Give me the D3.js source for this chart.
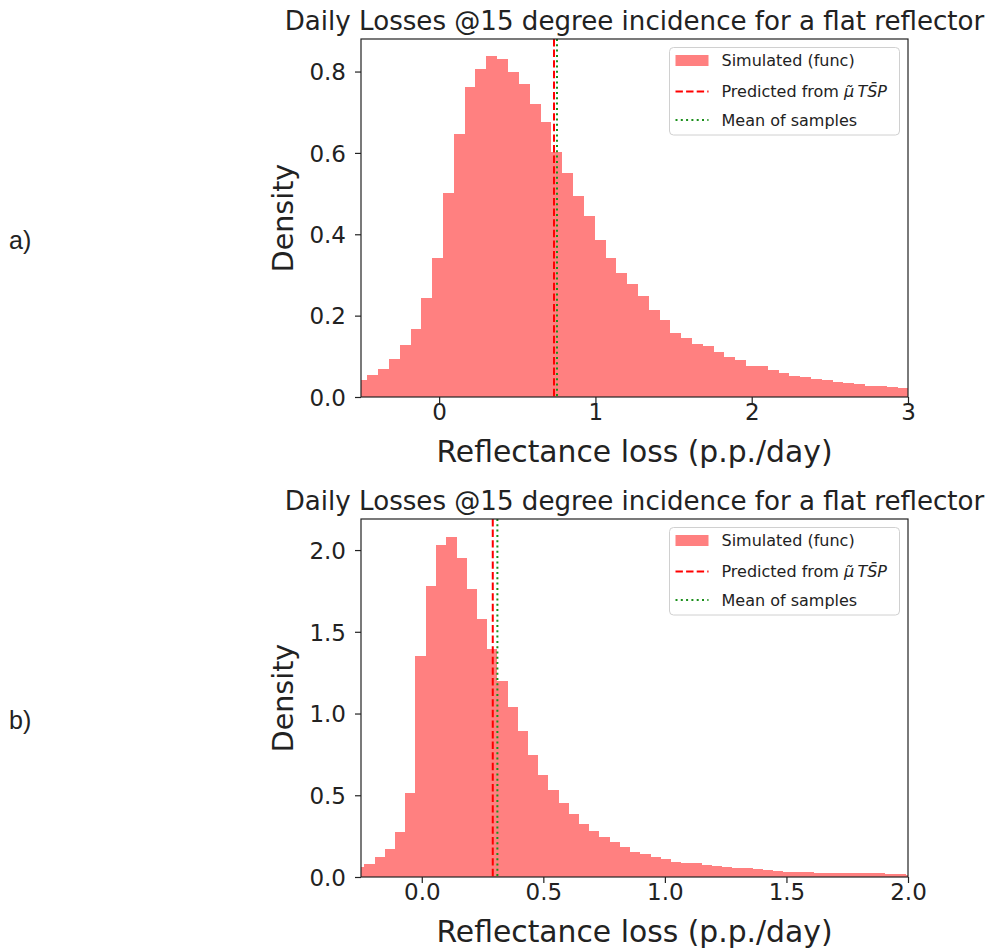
<!DOCTYPE html>
<html>
<head>
<meta charset="utf-8">
<script src="https://cdn.jsdelivr.net/npm/d3@7"></script>
<style>
body { margin: 0; background: #fff; }
text { font-family: "DejaVu Sans", sans-serif; fill: #222; }
</style>
</head>
<body>
<div id="chart-area"></div>
<script>
// a) histogram: first bin left edge, bin width, density per bin
var binStartA = -0.529;
var binWidthA = 0.0692;
var densityA = [0.041, 0.053, 0.070, 0.094, 0.127, 0.167, 0.244, 0.341, 0.502, 0.647,
    0.761, 0.806, 0.838, 0.830, 0.800, 0.770, 0.720, 0.676, 0.603, 0.550,
    0.495, 0.446, 0.385, 0.341, 0.304, 0.277, 0.248, 0.215, 0.190, 0.158,
    0.146, 0.131, 0.126, 0.110, 0.098, 0.090, 0.076, 0.075, 0.067, 0.058,
    0.051, 0.050, 0.044, 0.042, 0.038, 0.034, 0.032, 0.027, 0.026, 0.025, 0.022];
var predictedA = 0.735;
var meanA = 0.754;
var xTicksA = [0, 1, 2, 3];
var yTicksA = [0, 0.2, 0.4, 0.6, 0.8];

// b) histogram
var binStartB = -0.2784;
var binWidthB = 0.0420;
var densityB = [0.061, 0.082, 0.122, 0.174, 0.275, 0.514, 1.351, 1.779, 2.034, 2.081,
    1.952, 1.761, 1.581, 1.392, 1.198, 1.037, 0.892, 0.745, 0.627, 0.535,
    0.455, 0.384, 0.327, 0.282, 0.245, 0.214, 0.184, 0.153, 0.143, 0.125,
    0.113, 0.094, 0.085, 0.083, 0.073, 0.066, 0.064, 0.054, 0.052, 0.046,
    0.044, 0.034, 0.033, 0.033, 0.032, 0.024, 0.023, 0.023, 0.022, 0.023,
    0.022, 0.022, 0.016, 0.016, 0.015];
var predictedB = 0.292;
var meanB = 0.311;
var xTicksB = [0, 0.5, 1, 1.5, 2];
var yTicksB = [0, 0.5, 1, 1.5, 2];

var titleText = "Daily Losses @15 degree incidence for a flat reflector";
var xLabelText = "Reflectance loss (p.p./day)";
var yLabelText = "Density";
var legendLabels = ["Simulated (func)", "Predicted from ", "Mean of samples"];

var margin = { left: 361, top: 39 };
var width = 547;
var height = 358;

var svg = d3.select("#chart-area").append("svg")
    .attr("width", 989)
    .attr("height", 949);

function drawPanel(id, top, tag, binStart, binWidth, density, xDomain, yMax, xTicks, yTicks, xFmt, predicted, mean) {
    var g = svg.append("g")
        .attr("transform", "translate(" + margin.left + ", " + top + ")");

    var x = d3.scaleLinear().domain(xDomain).range([0, width]);
    var y = d3.scaleLinear().domain([0, yMax]).range([height, 0]);

    g.append("clipPath").attr("id", "clip" + id)
        .append("rect").attr("width", width).attr("height", height);

    var plot = g.append("g").attr("clip-path", "url(#clip" + id + ")");

    // bars
    plot.selectAll("rect.bar").data(density)
        .enter().append("rect")
        .attr("class", "bar")
        .attr("x", (d, i) => x(binStart + i * binWidth))
        .attr("width", (d, i) => x(binStart + (i + 1) * binWidth) - x(binStart + i * binWidth) + 0.3)
        .attr("y", (d) => y(d))
        .attr("height", (d) => height - y(d))
        .attr("fill", "#ff8080")
        .attr("shape-rendering", "crispEdges");

    plot.append("line")
        .attr("x1", x(predicted)).attr("x2", x(predicted))
        .attr("y1", 0).attr("y2", height)
        .attr("stroke", "red")
        .attr("stroke-width", 2)
        .attr("stroke-dasharray", "7.4,3.2");
    plot.append("line")
        .attr("x1", x(mean)).attr("x2", x(mean))
        .attr("y1", 0).attr("y2", height)
        .attr("stroke", "#1a8f1a")
        .attr("stroke-width", 2)
        .attr("stroke-dasharray", "2,3.3");

    // axes
    var xAxis = d3.axisBottom(x).tickValues(xTicks).tickFormat(d3.format(xFmt))
        .tickSize(6).tickSizeOuter(0);
    var yAxis = d3.axisLeft(y).tickValues(yTicks).tickFormat(d3.format(".1f"))
        .tickSize(6).tickSizeOuter(0).tickPadding(9);
    var xg = g.append("g").attr("transform", "translate(0, " + height + ")").call(xAxis);
    var yg = g.append("g").call(yAxis);
    [xg, yg].forEach((a) => {
        a.select(".domain").remove();
        a.selectAll("line").attr("stroke", "#222").attr("stroke-width", 1.2);
        a.selectAll("text").attr("font-size", "23px").style("font-family", "'DejaVu Sans'").attr("fill", "#222");
    });
    xg.selectAll("text").attr("y", 22.5).attr("dy", null);
    yg.selectAll("text").attr("dy", "0.36em");

    // frame
    g.append("rect")
        .attr("width", width).attr("height", height)
        .attr("fill", "none")
        .attr("stroke", "#222")
        .attr("stroke-width", 1.2);

    g.append("text")
        .attr("x", width / 2).attr("y", -9)
        .attr("text-anchor", "middle")
        .attr("font-size", "26.1px")
        .text(titleText);
    g.append("text")
        .attr("x", width / 2).attr("y", height + 65)
        .attr("text-anchor", "middle")
        .attr("font-size", "29.8px")
        .text(xLabelText);
    g.append("text")
        .attr("transform", "translate(-68, " + (height / 2) + ") rotate(-90)")
        .attr("text-anchor", "middle")
        .attr("font-size", "28.5px")
        .text(yLabelText);

    // legend
    var lg = g.append("g").attr("transform", "translate(308.5, 8.5)");
    lg.append("rect")
        .attr("width", 230).attr("height", 87.5)
        .attr("rx", 4)
        .attr("fill", "white").attr("fill-opacity", 0.8)
        .attr("stroke", "#d0d0d0");
    lg.append("rect")
        .attr("x", 6).attr("y", 7.5).attr("width", 33).attr("height", 11)
        .attr("fill", "#ff8080");
    lg.append("line")
        .attr("x1", 6).attr("x2", 39).attr("y1", 44).attr("y2", 44)
        .attr("stroke", "red").attr("stroke-width", 2).attr("stroke-dasharray", "7.4,3.2");
    lg.append("line")
        .attr("x1", 6).attr("x2", 39).attr("y1", 72.5).attr("y2", 72.5)
        .attr("stroke", "#1a8f1a").attr("stroke-width", 2).attr("stroke-dasharray", "2,3.3");
    var rows = [13, 43.5, 72.5];
    legendLabels.forEach((lab, i) => {
        var t = lg.append("text")
            .attr("x", 52).attr("y", rows[i])
            .attr("dy", "0.36em")
            .attr("font-size", "16px")
            .text(lab);
        if (i === 1) {
            t.append("tspan").attr("font-style", "italic").text("\u03bc\u0303\u2009TS\u0304P");
        }
    });

    svg.append("text")
        .attr("x", 9).attr("y", top + 210)
        .attr("font-size", "25px")
        .style("font-family", "'Liberation Sans', Arial, sans-serif")
        .attr("fill", "#000")
        .text(tag);
}

drawPanel("a", 39, "a)", binStartA, binWidthA, densityA, [-0.5, 3], 0.88, xTicksA, yTicksA, "d", predictedA, meanA);
drawPanel("b", 519, "b)", binStartB, binWidthB, densityB, [-0.25, 2], 2.19, xTicksB, yTicksB, ".1f", predictedB, meanB);
</script>
</body>
</html>
